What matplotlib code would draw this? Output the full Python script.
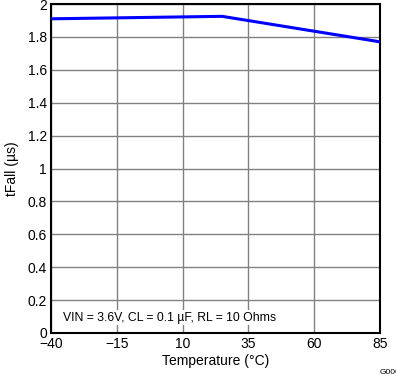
import matplotlib
matplotlib.use("Agg")
import matplotlib.pyplot as plt

plt.rcParams['font.family'] = ['Liberation Sans', 'DejaVu Sans']

temps = [-40, 25, 85]
tfall = [1.91, 1.925, 1.77]
xticks = [-40, -15, 10, 35, 60, 85]
yticks = [0, 0.2, 0.4, 0.6, 0.8, 1, 1.2, 1.4, 1.6, 1.8, 2]
ytick_labels = ['0', '0.2', '0.4', '0.6', '0.8', '1', '1.2', '1.4', '1.6', '1.8', '2']

fig = plt.figure(figsize=(3.96, 3.77), dpi=100)
ax = fig.add_axes([51/396, 1 - 333/377, 329/396, 329/377])
ax.plot(temps, tfall, color='#0000ff', linewidth=2.2, zorder=3)
ax.set_xlim(-40, 85)
ax.set_ylim(0, 2)
ax.set_xticks(xticks)
ax.set_xticklabels(['\u2212' + str(-t) if t < 0 else str(t) for t in xticks])
ax.set_yticks(yticks)
ax.set_yticklabels(ytick_labels)
ax.grid(True, color='#808080', linewidth=1.0)
ax.tick_params(length=0, labelsize=10, pad=3)
for s in ax.spines.values():
    s.set_linewidth(1.5)
    s.set_color('black')
ax.set_xlabel('Temperature (°C)', fontsize=10, labelpad=2)
ax.set_ylabel('tFall (µs)', fontsize=10, labelpad=6)
ax.text(0.035, 0.047, 'VIN = 3.6V, CL = 0.1 µF, RL = 10 Ohms', transform=ax.transAxes,
        fontsize=8.8, ha='left', va='center',
        bbox=dict(facecolor='white', edgecolor='none', pad=1))
fig.text(380/396, 1 - 373/377, 'G000', fontsize=6, ha='left', va='center')
fig.savefig('out.png', dpi=100)
